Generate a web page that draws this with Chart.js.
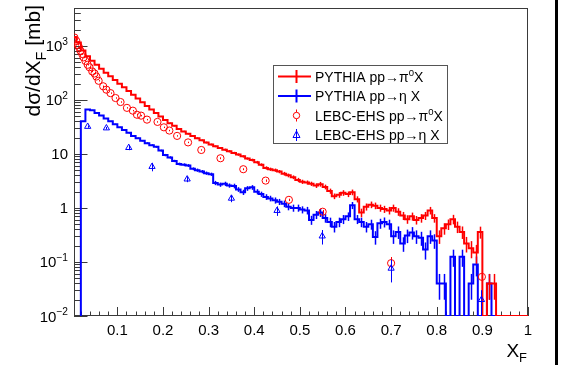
<!DOCTYPE html>
<html>
<head>
<meta charset="utf-8">
<script src="https://cdn.jsdelivr.net/npm/chart.js@4.4.1/dist/chart.umd.min.js"></script>
<style>
html, body { margin: 0; padding: 0; background: #fff; }
canvas { display: block; }
</style>
</head>
<body>
<canvas id="xfChart" width="566" height="365"></canvas>
<script>
// histogram binning: 100 bins of 0.01 in X_F
const binWidth = 0.01;
const nBins = 100;

// PYTHIA pp -> pi0 X, dsigma/dXF [mb] per bin
const pythiaPi0 = [
  1450, 1150, 820, 640, 530, 445, 375, 318, 272, 232,
  198, 170, 146, 124, 106, 90, 77, 66, 57, 49,
  42.5, 37, 33, 29, 26, 23.5, 21.5, 19.5, 17.8, 16.2,
  14.9, 13.8, 12.8, 11.9, 11.2, 10.4, 9.7, 9.0, 8.2, 7.7,
  7.0, 6.3, 5.5, 5.2, 5.0, 4.7, 4.3, 4.0, 3.7, 3.3,
  3.05, 2.95, 2.8, 2.6, 2.75, 2.45, 2.05, 1.65, 1.75, 1.9,
  1.8, 1.95, 1.45, 0.82, 1.05, 1.15, 1.1, 1.0, 0.95, 0.9,
  1.0, 0.85, 0.72, 0.62, 0.7, 0.6, 0.65, 0.72, 0.9, 0.65,
  0.3, 0.42, 0.5, 0.62, 0.45, 0.36, 0.22, 0.18, 0.15, 0.36,
  0, 0.04, 0.04, 0, 0, 0, 0, 0, 0, 0
];
// relative errors in %
const pythiaPi0Err = [
  1, 1, 1, 1, 1, 1, 1, 1, 1, 1,
  1, 1, 1, 2, 2, 2, 2, 2, 2, 2,
  3, 3, 3, 3, 3, 3, 4, 4, 4, 4,
  4, 4, 4, 5, 5, 5, 5, 5, 5, 6,
  6, 6, 7, 7, 7, 7, 8, 8, 8, 9,
  9, 9, 9, 10, 10, 10, 11, 12, 12, 12,
  12, 12, 13, 18, 15, 14, 14, 15, 15, 16,
  15, 16, 17, 18, 17, 18, 18, 17, 16, 18,
  28, 24, 22, 20, 24, 26, 32, 35, 38, 25,
  0, 50, 50, 0, 0, 0, 0, 0, 0, 0
];

// PYTHIA pp -> eta X
const pythiaEta = [
  0, 0, 40, 66, 64, 57, 51, 45, 40, 35.5,
  31, 27.5, 24.5, 21.5, 19.5, 17.5, 15.8, 14.5, 13.5, 11.5,
  9.5, 8.6, 7.4, 6.5, 6.3, 6.1, 5.3, 5.0, 4.7, 4.4,
  4.2, 2.9, 2.7, 2.8, 2.6, 2.55, 2.2, 1.95, 2.3, 2.4,
  2.0, 1.8, 1.6, 1.5, 1.38, 1.3, 1.2, 1.05, 1.0, 1.0,
  0.93, 0.9, 0.6, 0.75, 0.82, 0.65, 0.55, 0.45, 0.55, 0.62,
  0.7, 1.12, 0.62, 0.55, 0.45, 0.5, 0.29, 0.52, 0.55, 0.5,
  0.3, 0.36, 0.22, 0.31, 0.35, 0.3, 0.28, 0.17, 0.3, 0.25,
  0.04, 0.04, 0, 0.125, 0, 0.125, 0, 0.04, 0.09, 0,
  0, 0.04, 0, 0, 0, 0, 0, 0, 0, 0
];
const pythiaEtaErr = [
  0, 0, 2, 2, 2, 2, 2, 2, 2, 2,
  2, 3, 3, 3, 3, 3, 4, 4, 4, 4,
  5, 5, 5, 6, 6, 6, 6, 7, 7, 7,
  7, 9, 9, 9, 9, 10, 10, 11, 10, 10,
  11, 11, 12, 12, 13, 13, 14, 14, 15, 15,
  15, 16, 19, 17, 17, 18, 20, 22, 20, 19,
  18, 15, 19, 20, 22, 21, 28, 21, 21, 21,
  28, 26, 30, 28, 26, 28, 29, 35, 28, 30,
  50, 50, 0, 35, 0, 35, 0, 50, 40, 0,
  0, 50, 0, 0, 0, 0, 0, 0, 0, 0
];

// LEBC-EHS data
const lebcPi0X = [0.006, 0.010, 0.013, 0.016, 0.019, 0.023, 0.026, 0.030, 0.035, 0.039,
  0.045, 0.050, 0.054, 0.059, 0.069, 0.076, 0.085, 0.096, 0.107, 0.121,
  0.134, 0.143, 0.152, 0.165, 0.188, 0.202, 0.214, 0.231, 0.255, 0.284,
  0.326, 0.376, 0.425, 0.476, 0.550, 0.700, 0.899];
const lebcPi0Y = [1420, 1230, 1040, 940, 810, 705, 610, 525, 445, 400,
  335, 307, 270, 225, 178, 154, 133, 108, 91, 71,
  63, 53, 51, 43, 39, 31, 27, 21.5, 16.3, 11.8,
  8.3, 5.2, 3.2, 1.41, 0.85, 0.095, 0.053];
const lebcPi0Err = [3, 3, 3, 3, 3, 3, 3, 3, 3, 3,
  3, 3, 3, 3, 3, 3, 3, 3, 3, 3,
  3, 3, 3, 3, 3, 3, 3, 3, 3, 3,
  4, 4, 5, 5, 8, 30, 40];

const lebcEtaX = [0.035, 0.076, 0.125, 0.176, 0.253, 0.350, 0.450, 0.549, 0.700, 0.898];
const lebcEtaY = [32, 30, 13, 5.8, 3.4, 1.5, 0.89, 0.3, 0.076, 0.02];
const lebcEtaErr = [5, 5, 10, 18, 12, 15, 20, 30, 45, 50];

// axis ticks
const xTicks = [0.1, 0.2, 0.3, 0.4, 0.5, 0.6, 0.7, 0.8, 0.9, 1];
const xTickLabels = ['0.1', '0.2', '0.3', '0.4', '0.5', '0.6', '0.7', '0.8', '0.9', '1'];
const yTicks = [0.01, 0.1, 1, 10, 100, 1000];
const yTickLabels = [['10', '\u22122'], ['10', '\u22121'], ['1', ''], ['10', ''], ['10', '2'], ['10', '3']];

const Y_MIN = 0.01;
const Y_MAX = 5000;
const FONT = "'Liberation Sans', Arial, Helvetica, sans-serif";
const RED = '#ff0000';
const BLUE = '#0000ff';

function histPoints(vals) {
  const pts = [];
  let started = false;
  vals.forEach((v, i) => {
    const x = i * binWidth;
    if (!started) {
      if (v === 0) return;
      pts.push({x: x, y: Y_MIN});
      started = true;
    }
    pts.push({x: x, y: v > 0 ? v : Y_MIN});
  });
  const last = vals[vals.length - 1];
  pts.push({x: nBins * binWidth, y: last > 0 ? last : Y_MIN});
  return pts;
}

function pointList(xs, ys) {
  return xs.map((x, i) => ({x: x, y: ys[i]}));
}

// rich text: parts = [[text, 'n'|'sup'|'sub'], ...]
function richWidth(ctx, parts, size) {
  let w = 0;
  parts.forEach(p => {
    const s = p[1] === 'n' ? size : size * 0.68;
    ctx.font = s + 'px ' + FONT;
    w += ctx.measureText(p[0]).width;
  });
  return w;
}
function drawRich(ctx, parts, x, y, size, align) {
  const w = richWidth(ctx, parts, size);
  let cx = align === 'right' ? x - w : (align === 'center' ? x - w / 2 : x);
  parts.forEach(p => {
    const s = p[1] === 'n' ? size : size * 0.68;
    ctx.font = s + 'px ' + FONT;
    let dy = 0;
    if (p[1] === 'sup') dy = -size * 0.42;
    if (p[1] === 'sub') dy = size * 0.28;
    ctx.fillText(p[0], cx, y + dy);
    cx += ctx.measureText(p[0]).width;
  });
}

const errorBars = {
  id: 'errorBars',
  afterDatasetDraw(chart, args) {
    const ds = chart.data.datasets[args.index];
    if (!ds.errPct) return;
    const ctx = chart.ctx;
    const xs = chart.scales.x, ys = chart.scales.y;
    const area = chart.chartArea;
    ctx.save();
    ctx.beginPath();
    ctx.rect(area.left, area.top, area.right - area.left, area.bottom - area.top);
    ctx.clip();
    ctx.strokeStyle = ds.borderColor;
    ctx.lineWidth = ds.errWidth;
    ds.errX.forEach((x, i) => {
      const v = ds.errY[i];
      const e = v * ds.errPct[i] / 100;
      if (!(v > 0) || e <= 0) return;
      const px = Math.round(xs.getPixelForValue(x)) + 0.5;
      const lo = Math.max(v - e, Y_MIN * 0.5);
      ctx.beginPath();
      ctx.moveTo(px, ys.getPixelForValue(lo));
      ctx.lineTo(px, ys.getPixelForValue(v + e));
      ctx.stroke();
    });
    ctx.restore();
  }
};

const frameAndAxes = {
  id: 'frameAndAxes',
  beforeDatasetsDraw(chart) {
    const ctx = chart.ctx;
    const a = chart.chartArea;
    const xs = chart.scales.x, ys = chart.scales.y;
    ctx.save();
    ctx.strokeStyle = '#3a3a3a';
    ctx.lineWidth = 1;
    ctx.strokeRect(a.left + 0.5, a.top + 0.5, a.right - a.left - 1, a.bottom - a.top - 1);
    // x ticks (inside, from bottom)
    ctx.beginPath();
    for (let k = 1; k <= 50; k++) {
      const v = k * 0.02;
      if (v < xs.min) continue;
      const px = Math.round(xs.getPixelForValue(v)) + 0.5;
      const len = (k % 5 === 0) ? 9 : 4.5;
      ctx.moveTo(px, a.bottom);
      ctx.lineTo(px, a.bottom - len);
    }
    // y ticks (inside, from left)
    for (let n = -2; n <= 3; n++) {
      for (let m = 1; m <= 9; m++) {
        const v = m * Math.pow(10, n);
        if (v < Y_MIN || v > Y_MAX) continue;
        const py = Math.round(ys.getPixelForValue(v)) + 0.5;
        const len = m === 1 ? 13.5 : 6.8;
        ctx.moveTo(a.left, py);
        ctx.lineTo(a.left + len, py);
      }
    }
    ctx.stroke();
    ctx.restore();
  },
  afterDraw(chart) {
    const ctx = chart.ctx;
    const a = chart.chartArea;
    const xs = chart.scales.x, ys = chart.scales.y;
    ctx.save();
    ctx.fillStyle = '#000';
    // x tick labels
    ctx.textBaseline = 'alphabetic';
    ctx.textAlign = 'center';
    ctx.font = '15px ' + FONT;
    xTicks.forEach((v, i) => {
      ctx.fillText(xTickLabels[i], xs.getPixelForValue(v), a.bottom + 19);
    });
    // y tick labels
    ctx.textAlign = 'left';
    yTicks.forEach((v, i) => {
      const py = ys.getPixelForValue(v) + 5.5;
      const parts = [[yTickLabels[i][0], 'n']];
      if (yTickLabels[i][1]) parts.push([yTickLabels[i][1], 'sup']);
      drawRich(ctx, parts, a.left - 6, py, 15, 'right');
    });
    // axis titles
    drawRich(ctx, [['X', 'n'], ['F', 'sub']], 527, 357, 19, 'right');
    ctx.save();
    ctx.translate(40, 5);
    ctx.rotate(-Math.PI / 2);
    drawRich(ctx, [['d\u03c3/dX', 'n'], ['F', 'sub'], [' [mb]', 'n']], 0, 0, 21, 'right');
    ctx.restore();

    // legend box
    const lx = 273, ly = 65, lw = 174, lh = 78;
    ctx.fillStyle = '#fff';
    ctx.fillRect(lx, ly, lw, lh);
    ctx.strokeStyle = '#555';
    ctx.lineWidth = 1;
    ctx.strokeRect(lx + 0.5, ly + 0.5, lw, lh);
    const rows = [
      {c: RED, kind: 'hist', parts: [['PYTHIA pp\u2192\u03c0', 'n'], ['0', 'sup'], ['X', 'n']]},
      {c: BLUE, kind: 'hist', parts: [['PYTHIA pp\u2192\u03b7 X', 'n']]},
      {c: RED, kind: 'circle', parts: [['LEBC-EHS pp\u2192\u03c0', 'n'], ['0', 'sup'], ['X', 'n']]},
      {c: BLUE, kind: 'triangle', parts: [['LEBC-EHS pp\u2192\u03b7 X', 'n']]}
    ];
    rows.forEach((r, i) => {
      const cy = 76.5 + i * 19.5;
      const mx = 296.5;
      ctx.strokeStyle = r.c;
      ctx.beginPath();
      if (r.kind === 'hist') {
        ctx.lineWidth = 2;
        ctx.moveTo(278, cy); ctx.lineTo(311, cy);
        ctx.moveTo(mx, cy - 6.5); ctx.lineTo(mx, cy + 6.5);
        ctx.stroke();
      } else if (r.kind === 'circle') {
        ctx.lineWidth = 1;
        ctx.arc(mx, cy, 3.2, 0, Math.PI * 2);
        ctx.moveTo(mx, cy - 6); ctx.lineTo(mx, cy - 3.2);
        ctx.moveTo(mx, cy + 3.2); ctx.lineTo(mx, cy + 6);
        ctx.stroke();
      } else {
        ctx.lineWidth = 1;
        ctx.moveTo(mx, cy - 4); ctx.lineTo(mx + 3.5, cy + 2.5); ctx.lineTo(mx - 3.5, cy + 2.5); ctx.closePath();
        ctx.moveTo(mx, cy - 6); ctx.lineTo(mx, cy + 6);
        ctx.stroke();
      }
      ctx.fillStyle = '#000';
      drawRich(ctx, r.parts, 315, cy + 5, 14, 'left');
    });

    // dark edge on the right of the picture
    ctx.fillStyle = '#000';
    ctx.fillRect(555, 0, 3, 365);
    ctx.restore();
  }
};

const ctx = document.getElementById('xfChart').getContext('2d');
const xfChart = new Chart(ctx, {
  type: 'line',
  data: {
    datasets: [
      {
        label: 'LEBC-EHS pp\u2192\u03b7 X',
        data: pointList(lebcEtaX, lebcEtaY),
        showLine: false,
        pointStyle: 'triangle',
        pointRadius: 3.6,
        borderColor: BLUE,
        backgroundColor: 'rgba(0,0,0,0)',
        pointBorderWidth: 1,
        errX: lebcEtaX, errY: lebcEtaY, errPct: lebcEtaErr, errWidth: 1
      },
      {
        label: 'LEBC-EHS pp\u2192\u03c0\u2070X',
        data: pointList(lebcPi0X, lebcPi0Y),
        showLine: false,
        pointStyle: 'circle',
        pointRadius: 3.6,
        borderColor: RED,
        backgroundColor: 'rgba(0,0,0,0)',
        pointBorderWidth: 1,
        errX: lebcPi0X, errY: lebcPi0Y, errPct: lebcPi0Err, errWidth: 1
      },
      {
        label: 'PYTHIA pp\u2192\u03c0\u2070X',
        data: histPoints(pythiaPi0),
        stepped: true,
        borderColor: RED,
        borderWidth: 2,
        pointRadius: 0,
        fill: false,
        clip: 0,
        errX: pythiaPi0.map((v, i) => (i + 0.5) * binWidth), errY: pythiaPi0, errPct: pythiaPi0Err, errWidth: 1.5
      },
      {
        label: 'PYTHIA pp\u2192\u03b7 X',
        data: histPoints(pythiaEta),
        stepped: true,
        borderColor: BLUE,
        borderWidth: 2,
        pointRadius: 0,
        fill: false,
        clip: 0,
        errX: pythiaEta.map((v, i) => (i + 0.5) * binWidth), errY: pythiaEta, errPct: pythiaEtaErr, errWidth: 1.5
      }
    ]
  },
  options: {
    responsive: false,
    animation: false,
    layout: {padding: {left: 74, top: 8, right: 38, bottom: 49}},
    plugins: {legend: {display: false}, tooltip: {enabled: false}},
    scales: {
      x: {type: 'linear', min: 0.005, max: 1, display: false},
      y: {type: 'logarithmic', min: Y_MIN, max: Y_MAX, display: false}
    }
  },
  plugins: [errorBars, frameAndAxes]
});
</script>
</body>
</html>
